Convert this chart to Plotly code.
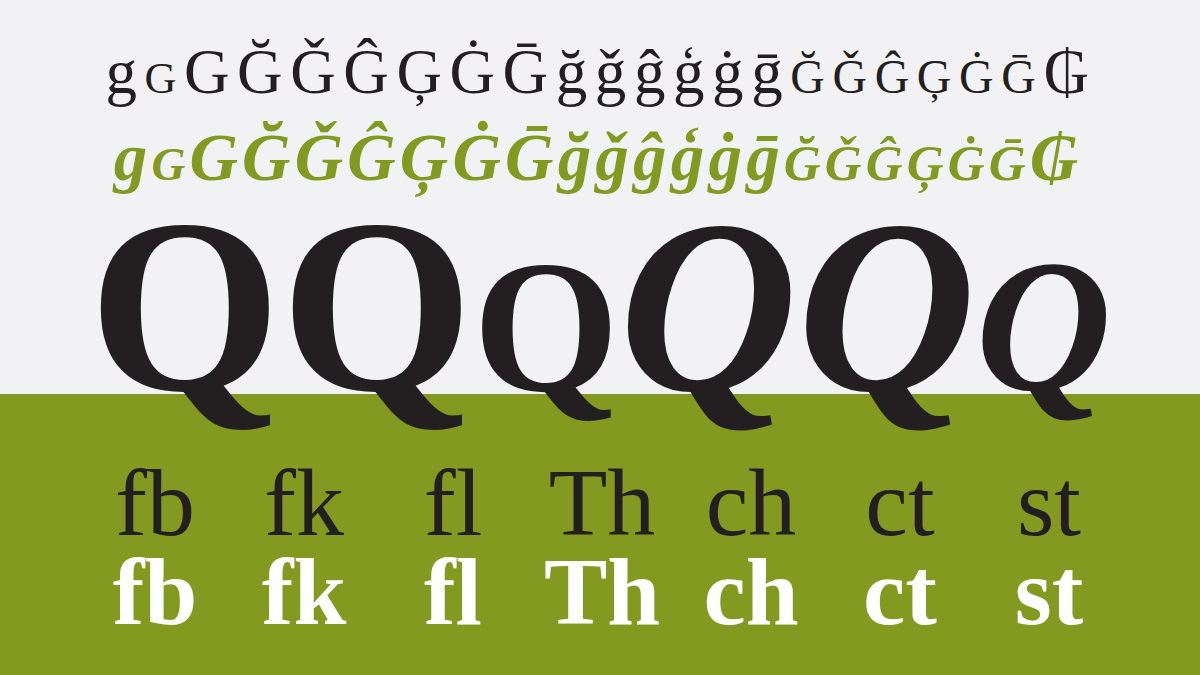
import plotly.graph_objects as go

# glyph sets shown in the specimen
lower_g = "g"
caps_g = ["G", "Ğ", "Ǧ", "Ĝ", "Ģ", "Ġ", "Ḡ"]
lower_accented = ["ğ", "ǧ", "ĝ", "ģ", "ġ", "ḡ"]
smallcap_accented = ["Ğ", "Ǧ", "Ĝ", "Ģ", "Ġ", "Ḡ"]
currency = "₲"

# Q row: (glyph, small cap?, italic?)
q_glyphs = ["Q", "Q", "Q", "Q", "Q", "Q"]
q_small = [False, False, True, False, False, True]
q_italic = [False, False, False, True, True, True]

ligatures = ["fb", "fk", "fl", "Th", "ch", "ct", "st"]

GREY = "#f2f2f4"
GREEN = "#84991f"
INK = "#231f20"
SERIF = "Liberation Serif, DejaVu Serif, serif"


def small(s, ratio):
    return f'<span style="font-size:{ratio * 100:.0f}%">{s}</span>'


def g_row(spacing):
    parts = [lower_g, small("G", 0.7)]
    parts += caps_g + lower_accented
    parts += [small(c, 0.76) for c in smallcap_accented]
    parts.append(currency)
    return f'<span style="letter-spacing:{spacing}px">' + "".join(parts) + "</span>"


def q_row(spacing):
    parts = []
    for ch, sm, it in zip(q_glyphs, q_small, q_italic):
        s = small(ch, 0.76) if sm else ch
        if it:
            s = f"<i>{s}</i>"
        parts.append(s)
    return f'<span style="letter-spacing:{spacing}px">' + "".join(parts) + "</span>"


fig = go.Figure()

# row 1: regular
fig.add_trace(go.Scatter(
    x=[601], y=[77], mode="text", text=[g_row(7.6)],
    textposition="middle center",
    textfont=dict(family=SERIF, size=63, color=INK),
))

# row 2: bold italic, green
fig.add_trace(go.Scatter(
    x=[598], y=[163], mode="text", text=[g_row(4.2)],
    textposition="middle center",
    textfont=dict(family=SERIF, size=67, color=GREEN, weight="bold", style="italic"),
))

# big Q's
fig.add_trace(go.Scatter(
    x=[600], y=[328], mode="text", text=[q_row(0)],
    textposition="middle center",
    textfont=dict(family=SERIF, size=247, color=INK, weight="bold"),
))

# ligature pairs, evenly spaced
lig_x = [155 + i * 149 for i in range(len(ligatures))]
fig.add_trace(go.Scatter(
    x=lig_x, y=[511] * len(ligatures), mode="text", text=ligatures,
    textposition="middle center",
    textfont=dict(family=SERIF, size=96, color=INK),
))
fig.add_trace(go.Scatter(
    x=lig_x, y=[600] * len(ligatures), mode="text", text=ligatures,
    textposition="middle center",
    textfont=dict(family=SERIF, size=95, color="white", weight="bold"),
))

fig.update_layout(
    width=1200, height=675,
    margin=dict(l=0, r=0, t=0, b=0),
    paper_bgcolor=GREY, plot_bgcolor=GREY,
    showlegend=False,
    xaxis=dict(range=[0, 1200], visible=False, fixedrange=True),
    yaxis=dict(range=[675, 0], visible=False, fixedrange=True),
    shapes=[
        dict(type="rect", xref="x", yref="y", x0=0, x1=1200, y0=0, y1=394,
             fillcolor=GREY, line_width=0, layer="below"),
        dict(type="rect", xref="x", yref="y", x0=0, x1=1200, y0=394, y1=675,
             fillcolor=GREEN, line_width=0, layer="below"),
    ],
)

fig.write_html("out.html", config={"displayModeBar": False},
               post_script="document.body.style.margin='0';")
